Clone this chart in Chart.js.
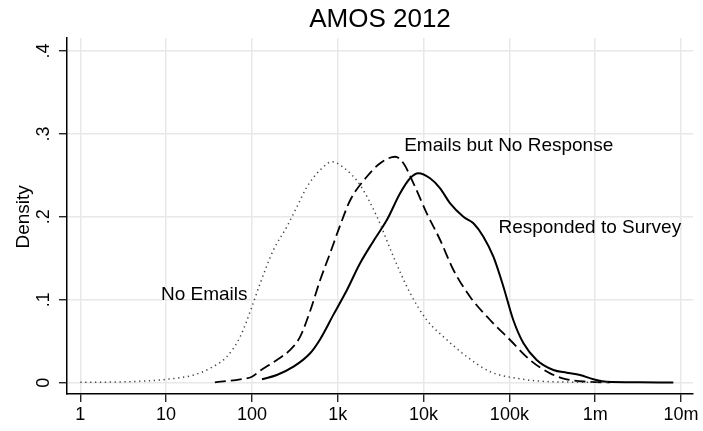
<!DOCTYPE html>
<html>
<head>
<meta charset="utf-8">
<script src="https://cdn.jsdelivr.net/npm/chart.js@4"></script>
<style>
  html, body { margin: 0; padding: 0; background: #fff; }
  #wrap { width: 703px; height: 431px; }
</style>
</head>
<body>
<div id="wrap"><canvas id="chart" width="703" height="431"></canvas></div>
<script>
// --- Data ---
const xTickValues = [1, 10, 100, 1000, 10000, 100000, 1000000, 10000000];
const xTickLabels = ['1', '10', '100', '1k', '10k', '100k', '1m', '10m'];
const yTickValues = [0, 0.1, 0.2, 0.3, 0.4];
const yTickLabels = ['0', '.1', '.2', '.3', '.4'];

// No Emails (dotted)
const noEmailsX = [1, 3.2, 5.6, 10, 21, 33, 51, 73, 100, 125, 178, 255, 334, 437, 624, 855, 1170, 1820, 2860, 4460, 6970, 10900, 17000, 31900, 59600, 122000, 298000, 1140000, 1500000];
const noEmailsY = [0.0005, 0.001, 0.002, 0.004, 0.0093, 0.0177, 0.0314, 0.0555, 0.0917, 0.120, 0.160, 0.188, 0.212, 0.236, 0.2565, 0.2665, 0.2595, 0.2384, 0.2002, 0.1519, 0.1081, 0.0756, 0.0555, 0.0314, 0.0133, 0.0053, 0.0012, 0.0005, 0.0004];

// Emails but No Response (dashed)
const emailsX = [37, 73, 100, 125, 195, 279, 365, 477, 624, 816, 1070, 1400, 2180, 3120, 4670, 5830, 7630, 10900, 15600, 22300, 34800, 59600, 102000, 174000, 298000, 466000, 797000, 1490000];
const emailsY = [0.0005, 0.0041, 0.0072, 0.0145, 0.0274, 0.0395, 0.0555, 0.0865, 0.1238, 0.1564, 0.1902, 0.2203, 0.2484, 0.2646, 0.2725, 0.2646, 0.2405, 0.2043, 0.1721, 0.1359, 0.1037, 0.0756, 0.0515, 0.0274, 0.0113, 0.0041, 0.0012, 0.0003];

// Responded to Survey (solid)
const respondedX = [131, 195, 305, 477, 624, 891, 1280, 1820, 2610, 3730, 5330, 6970, 8710, 11900, 15600, 20400, 29100, 38100, 49800, 65100, 85200, 111000, 146000, 208000, 326000, 466000, 665000, 951000, 1360000, 3330000, 8130000];
const respondedY = [0.0041, 0.0093, 0.0193, 0.0355, 0.0525, 0.0821, 0.1118, 0.144, 0.1709, 0.1961, 0.2284, 0.2465, 0.2525, 0.2465, 0.2344, 0.2163, 0.2002, 0.1922, 0.1761, 0.1519, 0.1158, 0.0756, 0.0475, 0.0274, 0.0153, 0.0121, 0.0093, 0.0041, 0.0012, 0.0005, 0.0002];

// text labels placed in data coordinates (left edge, baseline)
const notes = [
    { text: 'No Emails', x: 8.7, y: 0.0997 },
    { text: 'Emails but No Response', x: 5940, y: 0.2798 },
    { text: 'Responded to Survey', x: 74500, y: 0.1805 }
];

const FONT = "'Liberation Sans', Arial, sans-serif";

function zip(xs, ys) {
    return xs.map((x, i) => ({ x: x, y: ys[i] }));
}

// --- Extra text: title, rotated y labels, notes ---
const textPlugin = {
    id: 'stataText',
    afterDraw(chart) {
        const ctx = chart.ctx;
        const xs = chart.scales.x;
        const ys = chart.scales.y;
        const area = chart.chartArea;
        ctx.save();
        ctx.fillStyle = '#000';

        // title
        ctx.font = '26px ' + FONT;
        ctx.textAlign = 'center';
        ctx.textBaseline = 'alphabetic';
        ctx.fillText('AMOS 2012', (area.left + area.right) / 2, 27);

        // y tick labels, rotated
        ctx.font = '18px ' + FONT;
        yTickValues.forEach((v, i) => {
            ctx.save();
            ctx.translate(49, ys.getPixelForValue(v));
            ctx.rotate(-Math.PI / 2);
            ctx.textAlign = 'center';
            ctx.fillText(yTickLabels[i], 0, 0);
            ctx.restore();
        });

        // y axis title
        ctx.save();
        ctx.font = '19px ' + FONT;
        ctx.translate(29, ys.getPixelForValue(0.2));
        ctx.rotate(-Math.PI / 2);
        ctx.textAlign = 'center';
        ctx.fillText('Density', 0, 0);
        ctx.restore();

        // curve labels
        ctx.font = '19px ' + FONT;
        ctx.textAlign = 'left';
        notes.forEach(n => {
            ctx.fillText(n.text, xs.getPixelForValue(n.x), ys.getPixelForValue(n.y));
        });
        ctx.restore();
    }
};

new Chart(document.getElementById('chart'), {
    type: 'line',
    data: {
        datasets: [{
            label: 'No Emails',
            data: zip(noEmailsX, noEmailsY),
            borderColor: '#444',
            borderWidth: 1.5,
            borderDash: [1.3, 3.6],
            pointRadius: 0,
            cubicInterpolationMode: 'monotone'
        }, {
            label: 'Emails but No Response',
            data: zip(emailsX, emailsY),
            borderColor: '#000',
            borderWidth: 1.8,
            borderDash: [11, 5],
            pointRadius: 0,
            cubicInterpolationMode: 'monotone'
        }, {
            label: 'Responded to Survey',
            data: zip(respondedX, respondedY),
            borderColor: '#000',
            borderWidth: 2,
            pointRadius: 0,
            cubicInterpolationMode: 'monotone'
        }]
    },
    options: {
        responsive: false,
        animation: false,
        devicePixelRatio: 1,
        layout: { padding: { top: 38, right: 10, left: 0, bottom: 0 } },
        plugins: {
            legend: { display: false },
            tooltip: { enabled: false }
        },
        scales: {
            x: {
                type: 'logarithmic',
                min: 0.706,
                max: 13790000,
                afterBuildTicks: (scale) => {
                    scale.ticks = xTickValues.map(v => ({ value: v }));
                },
                afterFit: (scale) => { scale.height = 37; },
                grid: {
                    color: '#e8e8e8',
                    lineWidth: 1.5,
                    tickColor: '#000',
                    tickWidth: 1.2,
                    tickLength: 8
                },
                border: { color: '#000', width: 1.5 },
                ticks: {
                    autoSkip: false,
                    maxRotation: 0,
                    padding: 2,
                    color: '#000',
                    font: { family: FONT, size: 18 },
                    callback: (v, i) => xTickLabels[i]
                }
            },
            y: {
                type: 'linear',
                min: -0.01363,
                max: 0.4157,
                afterBuildTicks: (scale) => {
                    scale.ticks = yTickValues.map(v => ({ value: v }));
                },
                afterFit: (scale) => { scale.width = 67; },
                grid: {
                    color: '#e8e8e8',
                    lineWidth: 1.5,
                    tickColor: '#000',
                    tickWidth: 1.2,
                    tickLength: 8
                },
                border: { color: '#000', width: 1.5 },
                ticks: { display: false }
            }
        }
    },
    plugins: [textPlugin]
});
</script>
</body>
</html>
